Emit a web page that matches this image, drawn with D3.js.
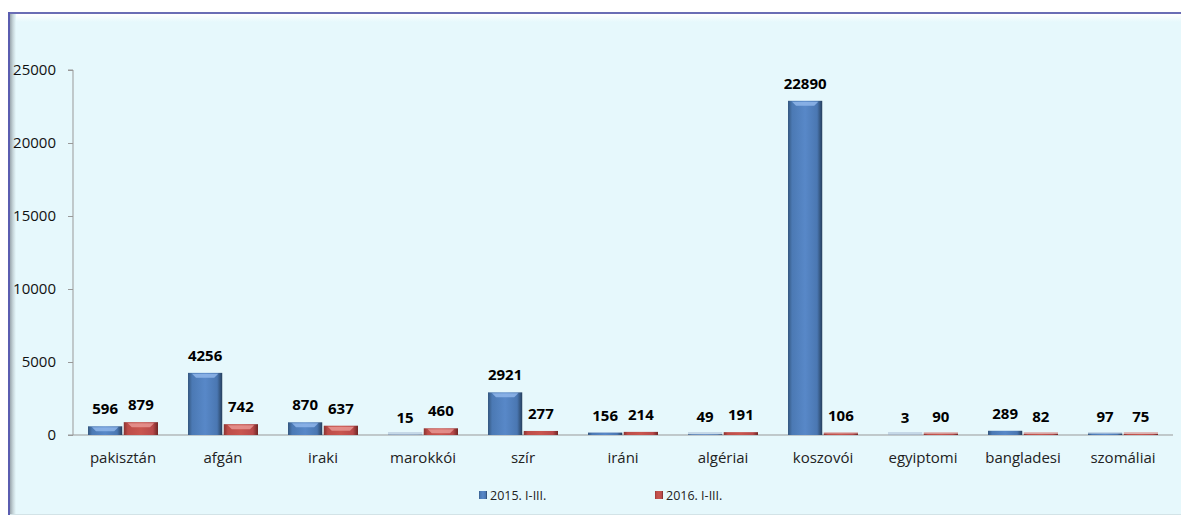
<!DOCTYPE html>
<html>
<head>
<meta charset="utf-8">
<script src="https://cdn.jsdelivr.net/npm/d3@7"></script>
<style>
  body { margin: 0; background: #fff; }
  svg text { font-family: "Open Sans", sans-serif; }
</style>
</head>
<body>
<div id="chart"></div>
<script>
// adatok
var categories = ["pakisztán", "afgán", "iraki", "marokkói", "szír", "iráni", "algériai", "koszovói", "egyiptomi", "bangladesi", "szomáliai"];
var series = ["2015. I-III.", "2016. I-III."];
var values2015 = [596, 4256, 870, 15, 2921, 156, 49, 22890, 3, 289, 97];
var values2016 = [879, 742, 637, 460, 277, 214, 191, 106, 90, 82, 75];
var yTicks = [0, 5000, 10000, 15000, 20000, 25000];

var W = 1181, H = 517;
var plotLeft = 73, plotRight = 1173, plotTop = 70, plotBottom = 435;

var svg = d3.select("#chart").append("svg")
  .attr("width", W).attr("height", H);

var defs = svg.append("defs");

function hGrad(id, stops) {
  var g = defs.append("linearGradient").attr("id", id)
    .attr("x1", "0").attr("x2", "1").attr("y1", "0").attr("y2", "0");
  stops.forEach(function(s) { g.append("stop").attr("offset", s[0]).attr("stop-color", s[1]); });
}
function vGrad(id, stops) {
  var g = defs.append("linearGradient").attr("id", id)
    .attr("x1", "0").attr("x2", "0").attr("y1", "0").attr("y2", "1");
  stops.forEach(function(s) { g.append("stop").attr("offset", s[0]).attr("stop-color", s[1]); });
}
hGrad("blue", [["0", "#34577f"], ["0.12", "#4b79b4"], ["0.5", "#5888c8"], ["0.85", "#4a77b2"], ["1", "#263f5c"]]);
hGrad("red", [["0", "#8a3431"], ["0.12", "#bd4c48"], ["0.5", "#c9564f"], ["0.85", "#b8494a"], ["1", "#6e2624"]]);
vGrad("topBevel", [["0", "#ffffff"], ["1", "#e6f8fc"]]);
hGrad("leftBevel", [["0", "#9aa6ad"], ["0.5", "#c7d6da"], ["1", "#e6f8fc"]]);

// keret / háttér
svg.append("rect").attr("x", 9).attr("y", 12).attr("width", W - 9).attr("height", 503).attr("fill", "#e6f8fc");
svg.append("rect").attr("x", 10).attr("y", 14).attr("width", W - 10).attr("height", 8).attr("fill", "url(#topBevel)");
svg.append("rect").attr("x", 10).attr("y", 14).attr("width", 6).attr("height", 501).attr("fill", "url(#leftBevel)");
svg.append("rect").attr("x", 9).attr("y", 12).attr("width", W - 9).attr("height", 2).attr("fill", "#6a6db5");
svg.append("rect").attr("x", 8).attr("y", 12).attr("width", 2).attr("height", 503).attr("fill", "#5a5db0");
svg.append("rect").attr("x", 10).attr("y", 514).attr("width", W - 10).attr("height", 1).attr("fill", "#d3e3e7");

var y = d3.scaleLinear().domain([0, 25000]).range([plotBottom, plotTop]);
var x0 = d3.scaleBand().domain(categories).range([plotLeft, plotRight]).paddingInner(0.3).paddingOuter(0.15);
var x1 = d3.scaleBand().domain(series).range([0, x0.bandwidth()]).paddingInner(0.043);

// y tengely
var yAxis = svg.append("g").attr("transform", "translate(" + plotLeft + ",0)")
  .call(d3.axisLeft(y).tickValues(yTicks).tickSize(5).tickPadding(12).tickFormat(d3.format("d")));
yAxis.select(".domain").attr("stroke", "#999").attr("d", "M-5," + y(25000) + "H0V" + plotBottom);
yAxis.selectAll(".tick line").attr("stroke", "#999");
yAxis.selectAll(".tick text").attr("font-size", 15).attr("fill", "#111")
  .attr("font-family", "Open Sans, sans-serif");

// x tengely
svg.append("line").attr("x1", plotLeft - 5).attr("x2", plotRight).attr("y1", plotBottom).attr("y2", plotBottom)
  .attr("stroke", "#999").attr("stroke-width", 1);

var groups = svg.selectAll(".cat").data(categories).enter().append("g")
  .attr("transform", function(d) { return "translate(" + x0(d) + ",0)"; });

var rows = categories.map(function(c, i) {
  return [{ s: series[0], v: values2015[i], c: "blue", hl: "#8fb6ea" },
          { s: series[1], v: values2016[i], c: "red", hl: "#e79793" }];
});

groups.each(function(d, i) {
  var g = d3.select(this);
  rows[i].forEach(function(r) {
    var bx = x1(r.s), bw = x1.bandwidth();
    var h = plotBottom - y(r.v);
    // halvány talp a kis értékekhez
    g.append("rect").attr("x", bx).attr("y", plotBottom - 3).attr("width", bw).attr("height", 3)
      .attr("fill", r.c == "blue" ? "#9fb4d0" : "#d9a3a1").attr("opacity", r.c == "blue" ? 0.45 : 0.7);
    g.append("rect").attr("x", bx).attr("y", y(r.v)).attr("width", bw).attr("height", h)
      .attr("fill", "url(#" + r.c + ")");
    if (h > 6) {
      g.append("path")
        .attr("d", "M" + (bx + 4) + "," + (y(r.v) + 1) + "H" + (bx + bw - 4) +
                   "L" + (bx + bw - 8) + "," + (y(r.v) + 5) + "H" + (bx + 8) + "Z")
        .attr("fill", r.hl).attr("opacity", 0.85);
    }
    g.append("text").attr("x", bx + bw / 2).attr("y", y(r.v) - 12)
      .attr("text-anchor", "middle").attr("font-size", 15).attr("font-weight", "bold")
      .attr("fill", "#000").text(r.v);
  });
  g.append("text").attr("x", x0.bandwidth() / 2).attr("y", 463)
    .attr("text-anchor", "middle").attr("font-size", 15).attr("fill", "#222").text(d);
});

// jelmagyarázat
var legendX = [479, 655];
series.forEach(function(s, i) {
  var lg = svg.append("g").attr("transform", "translate(" + legendX[i] + ",491)");
  lg.append("rect").attr("width", 8).attr("height", 8).attr("fill", "url(#" + (i == 0 ? "blue" : "red") + ")");
  lg.append("text").attr("x", 11).attr("y", 8.5).attr("font-size", 12.5).attr("fill", "#222").text(s);
});
</script>
</body>
</html>
